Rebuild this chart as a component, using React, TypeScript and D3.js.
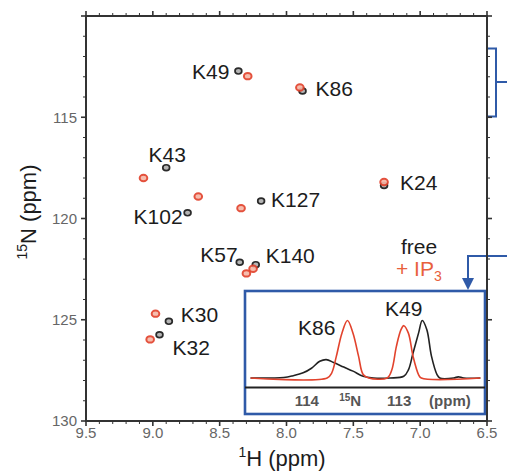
import React from 'react';
import * as d3 from 'd3';

// peak list (1H ppm, 15N ppm)
const peakLabels = ['K49', 'K86', 'K43', 'K102', 'K24', 'K127', 'K57', 'K140', 'K30', 'K32'];
const freeH = [8.36, 7.88, 8.9, 8.74, 7.27, 8.19, 8.35, 8.23, 8.88, 8.95];
const freeN = [112.72, 113.7, 117.49, 119.72, 118.37, 119.14, 122.16, 122.28, 125.08, 125.74];
const ip3H = [8.29, 7.9, 9.07, 8.66, 7.27, 8.34, 8.3, 8.25, 8.98, 9.02];
const ip3N = [112.97, 113.53, 118.0, 118.91, 118.2, 119.49, 122.71, 122.48, 124.7, 125.97];

const xTicks = [9.5, 9.0, 8.5, 8.0, 7.5, 7.0, 6.5];
const yTicks = [115, 120, 125, 130];

// 15N slice through K86 / K49 (inset)
const freeSlicePpm = [114.61, 114.25, 114.15, 114.04, 113.95, 113.86, 113.79, 113.71, 113.6, 113.5, 113.39, 113.28, 113.1, 112.95, 112.9, 112.85, 112.79, 112.75, 112.7, 112.65, 112.59, 112.56, 112.41, 112.36, 112.3, 112.12];
const freeSliceInt = [0, 0.01, 0.04, 0.09, 0.17, 0.29, 0.32, 0.27, 0.19, 0.12, 0.03, 0, 0, 0.03, 0.14, 0.43, 0.78, 1.0, 0.84, 0.38, 0.06, 0, 0, 0.02, 0, 0];
const ip3SlicePpm = [114.61, 113.78, 113.73, 113.68, 113.62, 113.56, 113.5, 113.44, 113.39, 113.33, 113.13, 113.08, 113.03, 112.98, 112.95, 112.9, 112.85, 112.79, 112.76, 112.12];
const ip3SliceInt = [0, 0, 0.09, 0.38, 0.78, 1.0, 0.78, 0.38, 0.06, 0, 0, 0.14, 0.55, 0.84, 0.91, 0.78, 0.38, 0.06, 0, 0];
const insetTicks = [114, 113];

const BLACK = '#222';
const RED = '#e2432d';
const ORANGE = '#e8603c';
const BLUE = '#2f5aa8';
const FONT = 'Liberation Sans, Arial, Helvetica, sans-serif';

// label placement relative to the free peak, px
const labelPos: Record<string, [number, number, string]> = {
  K49: [-9, 0, 'end'],
  K86: [13, -2, 'start'],
  K43: [1, -13, 'middle'],
  K102: [-5, 4, 'end'],
  K24: [16, -3, 'start'],
  K127: [10, -2, 'start'],
  K57: [-2, -8, 'end'],
  K140: [10, -9, 'start'],
  K30: [12, -7, 'start'],
  K32: [13, 13, 'start'],
};

export default function App() {
  const W = 507;
  const H = 475;
  const x = d3.scaleLinear().domain([9.5, 6.5]).range([86, 487]);
  const y = d3.scaleLinear().domain([110, 130]).range([16, 421]);
  const [x0, x1] = x.range();
  const [y0, y1] = y.range();

  const minorX = d3.range(65, 96).map(v => v / 10);
  const minorY = d3.range(110, 131);

  // inset
  const box = { left: 245, right: 485, top: 291, bottom: 414 };
  const ix = d3.scaleLinear().domain([114.67, 112.07]).range([box.left, box.right]);
  const iy = d3.scaleLinear().domain([0, 1]).range([378, 320.5]);
  const line = d3.line<[number, number]>()
    .x(d => ix(d[0]))
    .y(d => iy(d[1]))
    .curve(d3.curveCatmullRom.alpha(0.5));
  const freeLine = line(freeSlicePpm.map((p, i) => [p, freeSliceInt[i]]));
  const ip3Line = line(ip3SlicePpm.map((p, i) => [p, ip3SliceInt[i]]));

  const fs = 21;

  return (
    <svg width={W} height={H} style={{ position: 'absolute', left: 0, top: 0, background: '#fff' }} fontFamily={FONT}>
      {/* peaks */}
      {peakLabels.map((k, i) => (
        <g key={k}>
          <ellipse cx={x(freeH[i])} cy={y(freeN[i])} rx={3.4} ry={2.9} fill="#b5b5b5" stroke="#2a2a2a" strokeWidth={1.7} />
          <ellipse cx={x(ip3H[i])} cy={y(ip3N[i])} rx={3.8} ry={3.2} fill="#f6b8a8" stroke={RED} strokeWidth={2} opacity={0.92} />
        </g>
      ))}
      {peakLabels.map((k, i) => {
        const [dx, dy, anchor] = labelPos[k];
        return (
          <text key={'l' + k} x={x(freeH[i]) + dx} y={y(freeN[i]) + dy + fs * 0.36} fontSize={fs} fill="#1c1c1c" textAnchor={anchor}>
            {k}
          </text>
        );
      })}

      {/* legend */}
      <text x={419} y={246.5 + 0.36 * fs} fontSize={fs} fill="#1c1c1c" textAnchor="middle">free</text>
      <text x={396} y={268 + 0.36 * fs} fontSize={fs} fill={ORANGE}>
        + IP<tspan fontSize={14} dy={5}>3</tspan>
      </text>

      {/* blue connectors */}
      <path d="M488,48.5 H496 V116.5 H488 M496,82 H507" fill="none" stroke={BLUE} strokeWidth={2} />
      <path d="M507,256 H468 V280" fill="none" stroke={BLUE} strokeWidth={2} />
      <path d="M462,278 L474,278 L468,290 Z" fill={BLUE} />

      {/* inset */}
      <rect x={box.left} y={box.top} width={box.right - box.left} height={box.bottom - box.top} fill="#fff" stroke={BLUE} strokeWidth={2.6} />
      <path d={freeLine ?? ''} fill="none" stroke={BLACK} strokeWidth={1.6} />
      <path d={ip3Line ?? ''} fill="none" stroke={RED} strokeWidth={1.6} />
      <line x1={box.left} x2={box.right} y1={387.5} y2={387.5} stroke="#222" strokeWidth={1.8} />
      {insetTicks.map(t => (
        <text key={t} x={ix(t)} y={400 + 5.5} fontSize={15} fontWeight="bold" fill="#555" textAnchor="middle">{t}</text>
      ))}
      <text x={ix(113.53)} y={405.5} fontSize={15} fontWeight="bold" fill="#555" textAnchor="middle">
        <tspan fontSize={10} dy={-5}>15</tspan><tspan dy={5}>N</tspan>
      </text>
      <text x={ix(112.45)} y={405.5} fontSize={15} fontWeight="bold" fill="#555" textAnchor="middle">(ppm)</text>
      <text x={ix(113.56) - 12} y={327.5 + 0.36 * 21} fontSize={21} fill="#1c1c1c" textAnchor="end">K86</text>
      <text x={ix(112.95)} y={308.5 + 0.36 * 21} fontSize={21} fill="#1c1c1c" textAnchor="middle">K49</text>

      {/* axes frame */}
      <rect x={x0} y={y0} width={x1 - x0} height={y1 - y0} fill="none" stroke="#333" strokeWidth={2} />
      {minorX.map(v => {
        const major = Math.abs(v * 2 - Math.round(v * 2)) < 1e-6;
        const len = major ? 5 : 3;
        return (
          <g key={'mx' + v} stroke="#333" strokeWidth={major ? 1.6 : 1}>
            <line x1={x(v)} x2={x(v)} y1={y1} y2={y1 + len} />
            <line x1={x(v)} x2={x(v)} y1={y0} y2={y0 - len} />
          </g>
        );
      })}
      {minorY.map(v => {
        const major = v % 5 === 0;
        const len = major ? 5 : 3;
        return (
          <g key={'my' + v} stroke="#333" strokeWidth={major ? 1.6 : 1}>
            <line x1={x0} x2={x0 - len} y1={y(v)} y2={y(v)} />
            <line x1={x1} x2={x1 + len} y1={y(v)} y2={y(v)} />
          </g>
        );
      })}
      {xTicks.map(t => (
        <text key={'xt' + t} x={x(t)} y={433 + 5.4} fontSize={15} fill="#666" textAnchor="middle">{t.toFixed(1)}</text>
      ))}
      {yTicks.map(t => (
        <text key={'yt' + t} x={77} y={y(t) + 5.4} fontSize={15} fill="#666" textAnchor="end">{t}</text>
      ))}

      {/* axis titles */}
      <text x={282} y={458 + 0.36 * 22} fontSize={22} fill="#1c1c1c" textAnchor="middle">
        <tspan fontSize={14} dy={-9}>1</tspan><tspan dy={9}>H (ppm)</tspan>
      </text>
      <text transform="translate(28,212) rotate(-90)" x={0} y={0.36 * 22} fontSize={22} fill="#1c1c1c" textAnchor="middle">
        <tspan fontSize={14} dy={-9}>15</tspan><tspan dy={9}>N (ppm)</tspan>
      </text>
    </svg>
  );
}
